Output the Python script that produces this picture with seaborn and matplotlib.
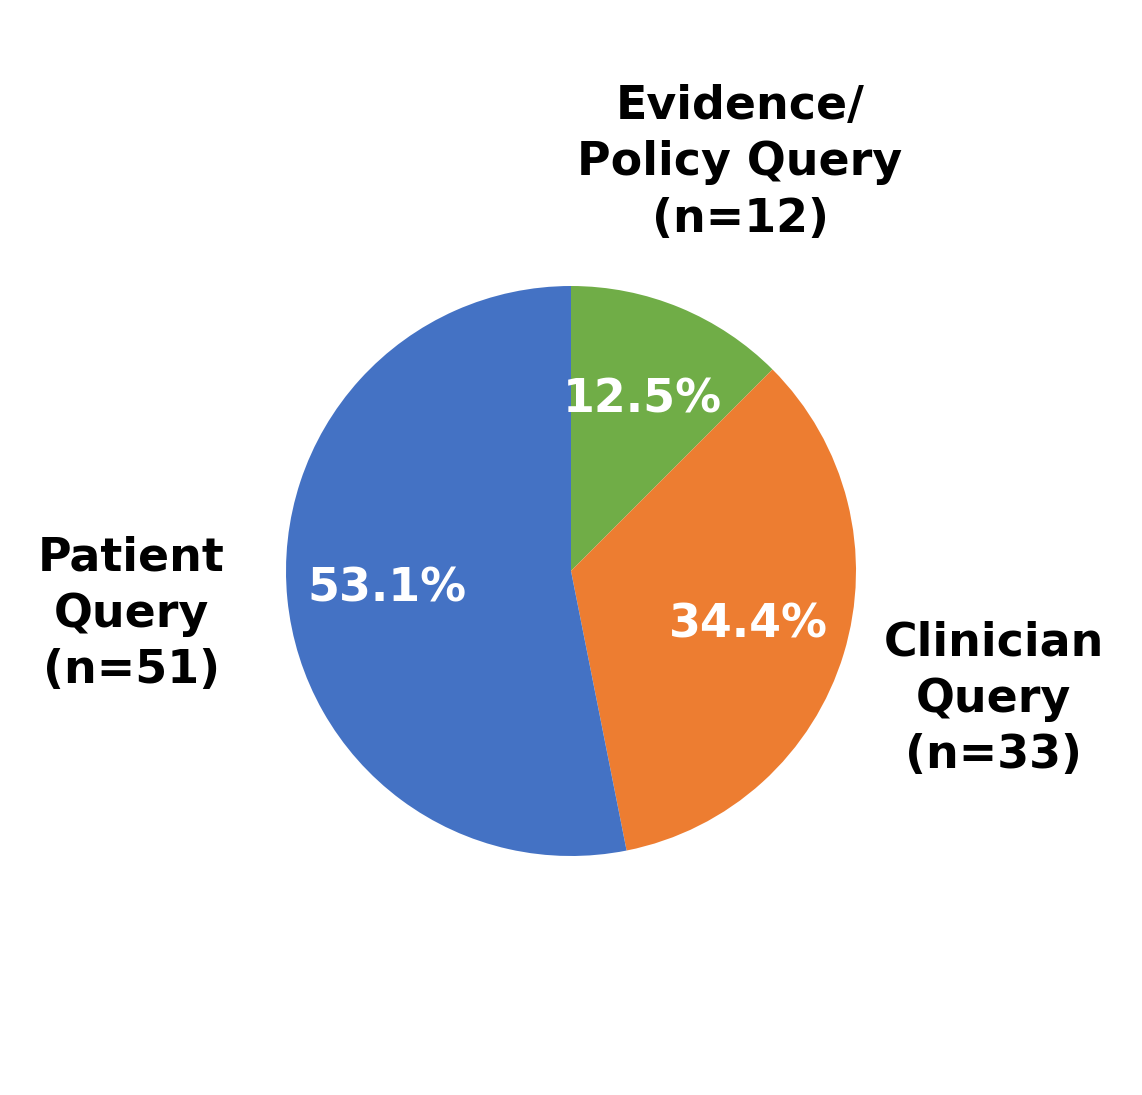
import matplotlib
matplotlib.use("Agg")
import matplotlib.pyplot as plt
import seaborn as sns

# data
categories = ["Evidence/\nPolicy Query\n(n=12)", "Clinician\nQuery\n(n=33)", "Patient\nQuery\n(n=51)"]
counts = [12, 33, 51]
colors = sns.color_palette(["#70AD47", "#ED7D31", "#4472C4"])

sns.set_style("white")
plt.rcParams['font.family'] = ['DejaVu Sans']

fig = plt.figure(figsize=(11.42, 10.95), dpi=100)
ax = fig.add_axes([0, 0, 1, 1])

wedges, texts, autotexts = ax.pie(
    counts, labels=categories, colors=colors, startangle=90, counterclock=False,
    autopct='%1.1f%%', pctdistance=0.65, labeldistance=1.55,
    wedgeprops=dict(linewidth=0),
    textprops=dict(fontsize=33, fontweight='bold'),
)
for t in texts:
    t.set_ha('center')
    t.set_va('center')
    t.set_color('black')
    t.set_linespacing(1.32)
for t in autotexts:
    t.set_color('white')
    t.set_ha('center')
    t.set_va('center')

# pie centre at (571, 571) px from top-left, radius 285 px
r = 285.0
ax.set_xlim(-571 / r, (1142 - 571) / r)
ax.set_ylim(-(1095 - 571) / r, 571 / r)
ax.set_aspect('auto')
ax.axis('off')

fig.savefig("out.png", dpi=100, facecolor='white')
